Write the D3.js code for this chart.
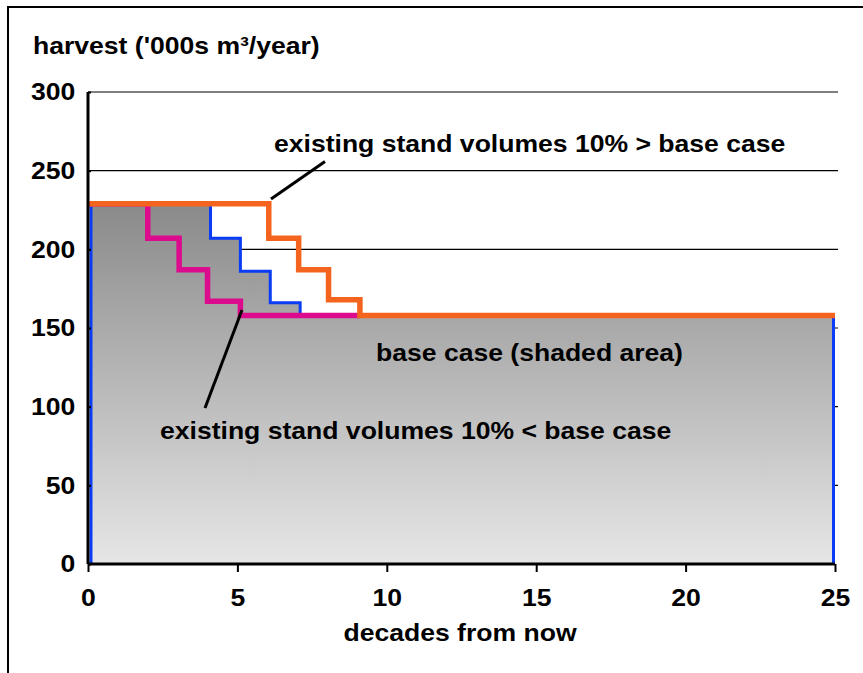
<!DOCTYPE html>
<html><head><meta charset="utf-8">
<script src="https://cdn.jsdelivr.net/npm/d3@7"></script>
<style>body{margin:0;background:#fff}svg{display:block}text{font-family:"Liberation Sans",Arial,sans-serif;font-weight:bold;fill:#000}</style>
</head><body>
<svg id="c" width="863" height="673"></svg>
<script>
// Data
const yTicks = [0, 50, 100, 150, 200, 250, 300];
const xTicks = [0, 5, 10, 15, 20, 25];
const baseX = [0.1, 4.1, 4.1, 5.1, 5.1, 6.1, 6.1, 7.1, 7.1, 24.95];
const baseY = [229, 229, 207, 207, 186, 186, 166, 166, 158, 158];
const highX = [0, 6.05, 6.05, 7.05, 7.05, 8.05, 8.05, 9.1, 9.1, 25];
const highY = [229, 229, 207, 207, 187, 187, 168, 168, 158, 158];
const lowX = [0, 2, 2, 3.05, 3.05, 4, 4, 5.1, 5.1, 9.1];
const lowY = [229, 229, 207, 207, 187, 187, 167, 167, 158, 158];
const labels = ["existing stand volumes 10% > base case", "base case (shaded area)", "existing stand volumes 10% < base case"];

const FS = "24px", SX = 1.107;
const svg = d3.select("#c");
const x = d3.scaleLinear().domain([0, 25]).range([88, 835]);
const y = d3.scaleLinear().domain([0, 300]).range([564, 92]);

// frame
svg.append("path").attr("d", "M8,673V7H863").attr("fill", "none").attr("stroke", "#000").attr("stroke-width", 2);

// gridlines
svg.append("g").selectAll("line").data(yTicks.filter(d => d > 0)).join("line")
  .attr("x1", x(0)).attr("x2", 838).attr("y1", d => y(d)).attr("y2", d => y(d))
  .attr("stroke", "#000").attr("stroke-width", 1.2);

// gradient
const defs = svg.append("defs");
const g = defs.append("linearGradient").attr("id", "shade").attr("gradientUnits", "userSpaceOnUse")
  .attr("x1", 0).attr("x2", 0).attr("y1", y(229)).attr("y2", y(0));
g.append("stop").attr("offset", 0).attr("stop-color", "#8a8a8a");
g.append("stop").attr("offset", 1).attr("stop-color", "#e6e6e6");

const base = baseX.map((d, i) => [d, baseY[i]]);
const area = d3.area().x(d => x(d[0])).y0(y(0)).y1(d => y(d[1]));
svg.append("path").datum(base).attr("d", area).attr("fill", "url(#shade)");

const line = d3.line().x(d => x(d[0])).y(d => y(d[1]));
const baseFull = [[baseX[0], 0]].concat(base, [[baseX[baseX.length - 1], 0]]);
svg.append("path").datum(baseFull).attr("d", line).attr("fill", "none").attr("stroke", "#0a3cf5").attr("stroke-width", 3);
svg.append("path").datum(lowX.map((d, i) => [d, lowY[i]])).attr("d", line).attr("fill", "none").attr("stroke", "#dc0a8c").attr("stroke-width", 5.5);
svg.append("path").datum(highX.map((d, i) => [d, highY[i]])).attr("d", line).attr("fill", "none").attr("stroke", "#f5641e").attr("stroke-width", 5.5);

// axes
const yAxis = svg.append("g").attr("transform", `translate(${x(0)},0)`)
  .call(d3.axisLeft(y).tickValues(yTicks).tickSize(-3).tickPadding(11.5));
const xAxis = svg.append("g").attr("transform", `translate(0,${y(0)})`)
  .call(d3.axisBottom(x).tickValues(xTicks).tickSize(8).tickPadding(17));
[yAxis, xAxis].forEach(a => {
  a.select(".domain").attr("stroke", "#000").attr("stroke-width", 3);
  a.selectAll(".tick line").attr("stroke", "#000").attr("stroke-width", 2);
  a.selectAll("text").style("font-size", FS).style("font-family", "Liberation Sans, Arial, sans-serif")
    .style("font-weight", "bold").attr("fill", "#000").attr("transform", `scale(${SX},1)`);
});
yAxis.select(".domain").attr("d", `M0,${y(0)}V${y(300)}`);
xAxis.select(".domain").attr("d", `M${x(0)},0H${x(25)}`);

function label(tx, ty, str, anchor) {
  svg.append("text").attr("transform", `translate(${tx},${ty}) scale(${SX},1)`)
    .attr("text-anchor", anchor || "start").style("font-size", FS).text(str);
}
label(33, 54, "harvest ('000s m³/year)");
label(460, 641, "decades from now", "middle");
label(274, 152, labels[0]);
label(376, 361, labels[1]);
label(160, 439, labels[2]);

// leader lines
svg.append("line").attr("x1", 271).attr("y1", 199).attr("x2", 325).attr("y2", 161.5).attr("stroke", "#000").attr("stroke-width", 3);
svg.append("line").attr("x1", 242).attr("y1", 310).attr("x2", 205).attr("y2", 408).attr("stroke", "#000").attr("stroke-width", 3);
</script>
</body></html>
